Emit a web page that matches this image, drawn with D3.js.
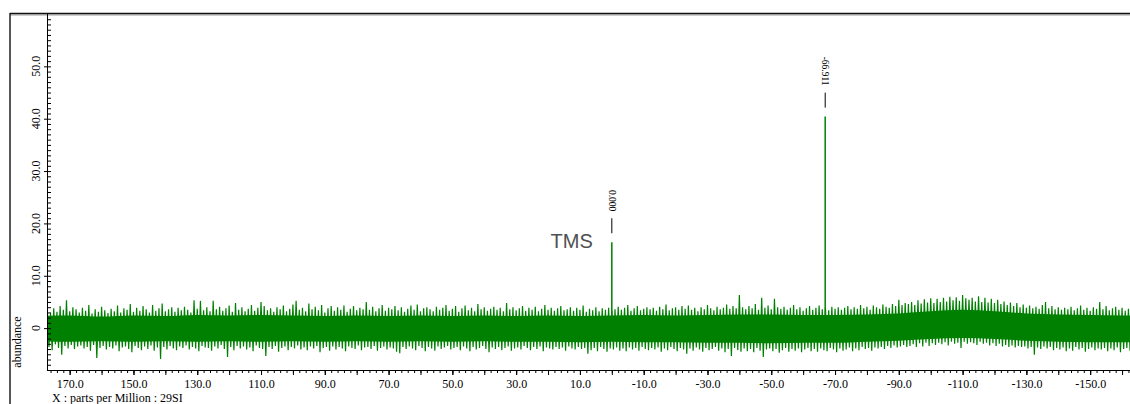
<!DOCTYPE html>
<html>
<head>
<meta charset="utf-8">
<script src="https://cdn.jsdelivr.net/npm/d3@7"></script>
<style>
  body { margin: 0; background: #fff; }
  svg { display: block; }
  text { font-family: "Liberation Serif", "Times New Roman", serif; }
</style>
</head>
<body>
<svg id="chart" width="1130" height="404"></svg>
<script>
// window of the spectrum
const ppmRange = [176.8, -165];
const abundRange = [-8, 60];

// picked peaks
const peakPpm = [0.000, -66.911];
const peakHeight = [16.4, 40.4];
const peakLabel = ["0.000", "-66.911"];

// noise band, upper excursions read every 1 ppm from 177 ppm
const noiseHiStart = 177;
const noiseHi = [
  3.4, 2.9, 3.8, 3.1, 4.2, 3.5, 5.3, 3.2, 4.0, 3.6,
  3.0, 3.9, 3.3, 4.4, 2.8, 3.6, 3.1, 4.1, 3.4, 2.9,
  3.7, 3.2, 4.3, 3.0, 3.8, 3.5, 4.6, 3.1, 3.9, 3.3,
  4.2, 3.6, 3.0, 4.4, 3.3, 3.8, 4.7, 3.2, 3.6, 4.0,
  3.1, 3.9, 3.4, 4.1, 3.5, 3.0, 5.3, 3.7, 5.2, 3.4,
  4.0, 3.2, 5.2, 3.6, 4.1, 3.3, 3.8, 4.3, 3.1, 4.8,
  3.5, 4.0, 3.2, 3.7, 4.4, 3.3, 3.9, 5.0, 4.2, 3.4,
  3.8, 3.1, 4.0, 3.6, 4.3, 3.2, 3.7, 4.5, 5.2, 3.5,
  3.9, 3.2, 4.7, 3.6, 4.1, 3.4, 4.4, 3.0, 3.8, 4.2,
  3.3, 4.0, 3.5, 4.3, 3.1, 3.7, 4.2, 3.4, 3.9, 3.6,
  5.0, 3.5, 4.1, 3.2, 3.8, 4.4, 3.3, 3.9, 3.6, 4.2,
  3.4, 4.0, 3.1, 3.7, 4.3, 3.5, 4.5, 3.2, 3.8, 4.0,
  3.6, 3.2, 4.1, 3.5, 3.9, 4.4, 3.3, 3.7, 4.2, 3.1,
  3.8, 4.3, 3.4, 3.9, 3.2, 4.6, 3.6, 4.0, 3.3, 3.7,
  4.1, 3.5, 3.9, 3.2, 4.8, 3.6, 4.0, 3.4, 3.8, 4.2,
  3.3, 3.9, 3.5, 4.1, 3.2, 3.7, 4.4, 3.5, 3.9, 3.3,
  3.8, 4.2, 3.4, 3.6, 4.0, 3.3, 3.9, 3.5, 4.3, 3.1,
  3.7, 3.4, 4.0, 3.2, 3.8, 3.5, 3.9, 3.3, 3.6, 4.1,
  3.5, 3.9, 4.4, 3.3, 3.8, 4.2, 3.4, 3.7, 4.0, 3.6,
  3.9, 3.3, 4.1, 3.6, 4.5, 3.4, 3.8, 4.0, 3.5, 4.2,
  3.7, 4.3, 3.5, 3.9, 3.2, 4.0, 3.6, 4.4, 3.8, 3.4,
  4.1, 3.6, 3.9, 4.5, 3.7, 4.2, 3.8, 6.3, 4.0, 3.6,
  4.2, 3.8, 4.6, 3.5, 5.8, 3.9, 4.3, 3.6, 5.6, 4.0,
  3.7, 4.1, 3.5, 3.9, 4.4, 3.6, 4.0, 3.3, 3.8, 4.2,
  3.5, 3.9, 4.3, 3.6, 3.8, 3.4, 4.1, 3.7, 4.0, 3.5,
  3.9, 4.2, 3.6, 4.0, 3.7, 4.4, 3.8, 4.1, 3.5, 4.3,
  4.0, 3.7, 4.5, 4.1, 3.9, 4.6, 4.2, 5.4, 4.4, 4.8,
  4.6, 5.0, 4.4, 5.3, 4.7, 5.5, 4.9, 5.7, 4.8, 5.6,
  5.0, 5.8, 5.1, 6.0, 5.3, 5.9, 5.2, 6.3, 5.7, 5.4,
  5.8, 5.1, 6.1, 5.0, 5.8, 4.9, 5.6, 4.8, 5.4, 4.6,
  5.1, 4.4, 4.9, 4.2, 4.8, 4.0, 4.5, 3.9, 4.3, 3.8,
  4.1, 3.7, 4.4, 5.0, 3.8, 4.2, 3.6, 4.0, 3.5, 3.9,
  3.6, 4.1, 3.4, 3.8, 4.3, 3.5, 3.9, 3.3, 4.0, 3.7,
  5.0, 3.6, 4.2, 3.4, 3.8, 4.1, 3.5, 3.9, 3.3, 3.7,
  3.6
];

// lower excursions, every 1 ppm from 176.5 ppm
const noiseLoStart = 176.5;
const noiseLo = [
  -3.6, -4.2, -3.1, -3.8, -5.1, -3.4, -3.9, -3.2, -4.0, -3.5,
  -3.3, -3.9, -3.6, -4.3, -3.2, -5.7, -3.8, -3.4, -4.1, -3.6,
  -3.9, -3.3, -4.4, -3.7, -3.5, -4.0, -4.6, -3.4, -3.8, -4.2,
  -3.5, -4.0, -3.3, -4.3, -3.7, -5.9, -3.6, -4.1, -3.4, -3.9,
  -4.2, -3.5, -3.8, -3.3, -4.1, -3.6, -3.9, -4.4, -3.4, -3.7,
  -3.8, -4.3, -3.5, -3.9, -3.2, -4.0, -5.5, -3.6, -4.2, -3.4,
  -3.9, -3.5, -4.1, -3.7, -4.4, -3.3, -3.8, -4.0, -5.3, -3.6,
  -4.0, -3.4, -4.5, -3.8, -3.5, -4.2, -3.6, -3.9, -3.3, -4.1,
  -3.7, -4.2, -3.5, -3.9, -3.4, -4.6, -3.8, -3.6, -4.3, -3.5,
  -4.1, -3.6, -3.9, -4.4, -3.5, -3.8, -4.0, -3.3, -4.2, -3.7,
  -3.6, -4.0, -3.4, -4.3, -3.8, -3.5, -4.1, -3.7, -3.9, -4.5,
  -4.8, -3.6, -4.0, -3.5, -3.9, -4.2, -3.4, -3.8, -4.4, -3.6,
  -3.9, -4.3, -3.5, -4.0, -3.7, -3.4, -4.1, -3.8, -3.6, -4.2,
  -3.5, -3.9, -4.4, -3.6, -4.1, -3.8, -3.4, -4.0, -4.6, -3.7,
  -4.0, -3.6, -4.2, -3.8, -3.5, -4.3, -3.9, -3.7, -4.1, -3.4,
  -3.8, -4.2, -3.6, -4.0, -3.5, -4.4, -3.7, -3.9, -4.1, -3.6,
  -4.0, -3.7, -4.3, -3.5, -3.9, -4.1, -3.6, -4.0, -3.8, -4.9,
  -4.2, -3.8, -4.4, -3.6, -4.0, -4.5, -3.9, -4.1, -3.7, -4.3,
  -3.9, -4.4, -3.7, -4.1, -3.8, -4.3, -3.6, -4.0, -4.2, -3.8,
  -4.1, -3.7, -4.5, -3.9, -4.2, -3.6, -4.0, -4.4, -3.8, -4.1,
  -4.9, -3.9, -4.3, -3.7, -4.1, -4.5, -3.8, -4.2, -4.0, -3.6,
  -4.3, -3.9, -4.6, -4.0, -5.3, -3.8, -4.2, -4.5, -3.9, -4.4,
  -4.0, -4.6, -3.8, -4.3, -5.5, -4.1, -3.9, -4.4, -4.0, -4.7,
  -4.2, -3.8, -4.5, -4.0, -4.3, -3.9, -4.6, -4.1, -3.8, -4.4,
  -4.0, -4.5, -3.9, -4.2, -4.4, -3.8, -4.1, -4.6, -3.9, -4.3,
  -4.1, -3.7, -4.4, -3.9, -4.2, -3.6, -4.0, -3.8, -4.3, -3.7,
  -3.9, -3.6, -4.0, -3.4, -3.8, -3.3, -3.7, -3.5, -3.2, -3.6,
  -3.4, -3.1, -3.6, -2.9, -3.5, -2.8, -3.4, -2.9, -3.2, -2.8,
  -3.1, -2.7, -3.3, -2.6, -3.0, -2.8, -3.8, -2.6, -3.0, -2.7,
  -2.9, -3.2, -2.6, -3.0, -2.8, -3.3, -2.9, -3.4, -3.0, -3.5,
  -3.2, -3.6, -3.3, -3.7, -3.4, -3.6, -3.5, -3.9, -3.6, -5.1,
  -3.7, -4.0, -3.5, -3.9, -3.6, -4.2, -3.8, -4.1, -3.7, -4.4,
  -3.9, -4.3, -3.6, -4.1, -3.8, -4.5, -4.0, -3.7, -4.2, -3.9,
  -4.1, -3.8, -4.4, -3.9, -4.2, -3.7, -4.6, -4.0, -3.8, -4.3,
  -4.0
];

// dense core of the band, every 10 ppm from 180 to -170
const coreStart = 180;
const coreHi = [2.3, 2.4, 2.2, 2.4, 2.3, 2.5, 2.4, 2.5, 2.4, 2.3,
                2.4, 2.3, 2.4, 2.3, 2.4, 2.3, 2.4, 2.3, 2.4, 2.5,
                2.4, 2.5, 2.6, 2.6, 2.5, 2.5, 2.6, 2.8, 3.2, 3.5,
                3.2, 2.8, 2.6, 2.5, 2.4, 2.4];
const coreLo = [-2.5, -2.6, -2.5, -2.6, -2.5, -2.6, -2.5, -2.6, -2.5, -2.6,
                -2.5, -2.6, -2.5, -2.6, -2.5, -2.6, -2.6, -2.7, -2.6, -2.7,
                -2.7, -2.8, -2.8, -2.9, -2.8, -2.8, -2.6, -2.4, -2.1, -1.9,
                -2.1, -2.4, -2.6, -2.7, -2.7, -2.7];

const yTickLabels = [0, 10, 20, 30, 40, 50];
const xTickLabels = [170, 150, 130, 110, 90, 70, 50, 30, 10, -10, -30, -50, -70, -90, -110, -130, -150];

const green = "#008000";
const plot = {left: 48, top: 14, right: 1138, bottom: 370};

const svg = d3.select("#chart");

const x = d3.scaleLinear().domain(ppmRange).range([plot.left, plot.right]);
const y = d3.scaleLinear().domain(abundRange).range([plot.bottom, plot.top]);

svg.append("defs").append("clipPath").attr("id", "clip")
  .append("rect")
  .attr("x", plot.left).attr("y", plot.top)
  .attr("width", plot.right - plot.left).attr("height", plot.bottom - plot.top);

// outer frame
svg.append("line").attr("x1", 10).attr("x2", 1130).attr("y1", 15).attr("y2", 15)
  .attr("stroke", "#999").attr("stroke-width", 1);
svg.append("line").attr("x1", 10).attr("x2", 1130).attr("y1", 13.5).attr("y2", 13.5)
  .attr("stroke", "#111").attr("stroke-width", 1.6);
svg.append("line").attr("x1", 10).attr("x2", 10).attr("y1", 13).attr("y2", 404)
  .attr("stroke", "#111").attr("stroke-width", 1.4);

const spec = svg.append("g").attr("clip-path", "url(#clip)");

// core band
const core = coreHi.map((v, i) => ({ppm: coreStart - 10 * i, hi: v, lo: coreLo[i]}));
spec.append("path")
  .datum(core)
  .attr("fill", green)
  .attr("d", d3.area().x(d => x(d.ppm)).y0(d => y(d.lo)).y1(d => y(d.hi)).curve(d3.curveMonotoneX));

// noise trace: upper and lower excursions in ppm order
const trace = noiseHi.map((v, i) => ({ppm: noiseHiStart - i, v: v}))
  .concat(noiseLo.map((v, i) => ({ppm: noiseLoStart - i, v: v})))
  .sort((a, b) => b.ppm - a.ppm);
spec.append("path")
  .datum(trace)
  .attr("fill", "none")
  .attr("stroke", green)
  .attr("stroke-width", 1.2)
  .attr("d", d3.line().x(d => x(d.ppm)).y(d => y(d.v)));

// peaks
const peaks = peakPpm.map((p, i) => ({ppm: p, h: peakHeight[i], label: peakLabel[i]}));
spec.selectAll("line.peak")
  .data(peaks)
  .join("line")
  .attr("class", "peak")
  .attr("x1", d => x(d.ppm)).attr("x2", d => x(d.ppm))
  .attr("y1", y(0)).attr("y2", d => y(d.h))
  .attr("stroke", green).attr("stroke-width", 1.5);

// peak markers and labels
svg.selectAll("line.mark")
  .data(peaks)
  .join("line")
  .attr("class", "mark")
  .attr("x1", d => x(d.ppm)).attr("x2", d => x(d.ppm))
  .attr("y1", d => y(d.h) - 9).attr("y2", d => y(d.h) - 24)
  .attr("stroke", "#000").attr("stroke-width", 1);

svg.selectAll("text.peak")
  .data(peaks)
  .join("text")
  .attr("class", "peak")
  .attr("transform", d => `translate(${x(d.ppm)},${y(d.h) - 31}) rotate(90)`)
  .attr("text-anchor", "end")
  .attr("dominant-baseline", "central")
  .style("font-size", "9.5px")
  .text(d => d.label);

svg.append("text")
  .attr("x", x(0) - 19).attr("y", 248)
  .attr("text-anchor", "end")
  .style("font-family", "'Liberation Sans', Arial, sans-serif")
  .style("font-size", "20px")
  .attr("fill", "#505050")
  .text("TMS");

// x axis
const xAxisG = svg.append("g").attr("transform", `translate(0,${plot.bottom})`);
xAxisG.append("g")
  .call(d3.axisBottom(x).tickValues(d3.range(-164, 177, 2)).tickSize(3).tickFormat(""))
  .call(g => g.select(".domain").remove());
xAxisG.append("g")
  .call(d3.axisBottom(x).tickValues(d3.range(-160, 177, 10)).tickSize(5).tickFormat(""))
  .call(g => g.select(".domain").remove());
xAxisG.append("g")
  .call(d3.axisBottom(x).tickValues(xTickLabels).tickSize(5).tickPadding(4.5)
    .tickFormat(d => d.toFixed(1)))
  .call(g => g.select(".domain").remove())
  .call(g => g.selectAll("text").style("font-size", "12px")
    .style("font-family", "'Liberation Serif', 'Times New Roman', serif").attr("fill", "#000"));
xAxisG.append("line").attr("x1", plot.left).attr("x2", 1130).attr("y1", 0.5).attr("y2", 0.5)
  .attr("stroke", "#000");

// y axis
const yAxisG = svg.append("g").attr("transform", `translate(${plot.left},0)`);
yAxisG.append("g")
  .call(d3.axisRight(y).tickValues(d3.range(-7, 60, 1)).tickSize(3).tickFormat(""))
  .call(g => g.select(".domain").remove());
yAxisG.append("g")
  .call(d3.axisLeft(y).tickValues(yTickLabels).tickSize(4).tickFormat(""))
  .call(g => g.select(".domain").remove());
yAxisG.append("line").attr("x1", -0.5).attr("x2", -0.5).attr("y1", plot.top).attr("y2", plot.bottom + 1)
  .attr("stroke", "#000");

svg.selectAll("text.ylab")
  .data(yTickLabels)
  .join("text")
  .attr("class", "ylab")
  .attr("transform", d => `translate(36,${y(d)}) rotate(-90)`)
  .attr("text-anchor", "middle")
  .attr("dominant-baseline", "central")
  .style("font-size", "12px")
  .text(d => d === 0 ? "0" : d.toFixed(1));

// axis titles
svg.append("text")
  .attr("transform", `translate(17,342) rotate(-90)`)
  .attr("text-anchor", "middle")
  .attr("dominant-baseline", "central")
  .style("font-size", "12px")
  .text("abundance");

svg.append("text")
  .attr("x", 52).attr("y", 402)
  .style("font-size", "12px")
  .text("X : parts per Million : 29SI");
</script>
</body>
</html>
